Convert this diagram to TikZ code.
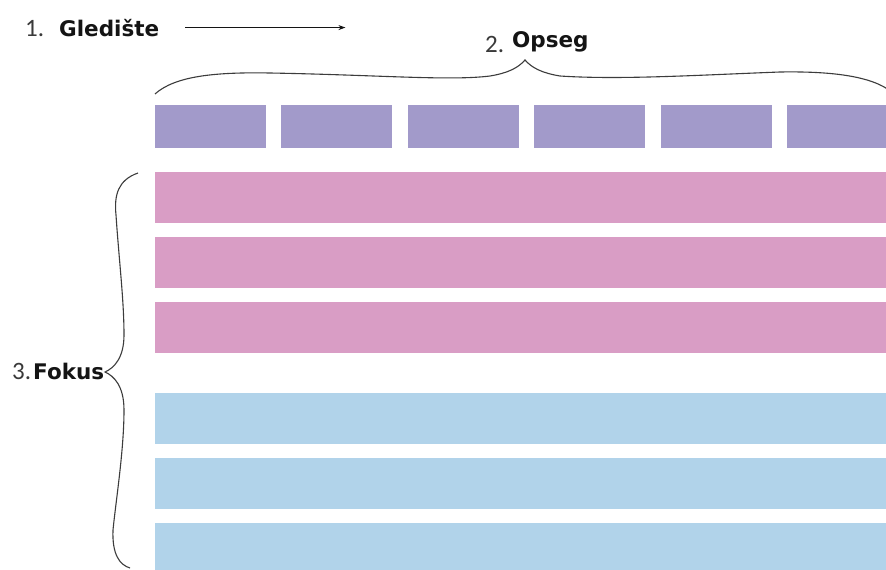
\documentclass[tikz,border=0pt]{standalone}
\usepackage{fontspec}
\newfontfamily\numfont{Carlito}
\newfontfamily\wordfont{DejaVu Sans}
\usepackage{tikz}
\usetikzlibrary{arrows.meta}
\definecolor{ink}{HTML}{141414}
\definecolor{numgray}{HTML}{3A3A3A}
\definecolor{bracegray}{HTML}{3C3C3C}
\definecolor{tilepurple}{HTML}{A29ACA}
\definecolor{barpink}{HTML}{D99DC5}
\definecolor{barblue}{HTML}{B1D3EA}
\tikzset{
  num/.style={anchor=base west, inner sep=0pt, text=numgray, font=\numfont\fontsize{25}{25}\selectfont},
  word/.style={anchor=base west, inner sep=0pt, text=ink, font=\wordfont\bfseries\fontsize{21.5}{21.5}\selectfont},
  tile/.style={anchor=north west, inner sep=0pt, outer sep=0pt, minimum width=111pt, minimum height=43pt, fill=tilepurple},
  bar/.style={anchor=north west, inner sep=0pt, outer sep=0pt, minimum width=760pt, minimum height=51pt},
  braceline/.style={draw=bracegray, line width=1.1pt},
  arr/.style={draw=ink, line width=0.9pt, -{Stealth[length=7pt,width=5pt]}}
}

\begin{document}
\begin{tikzpicture}[x=1pt,y=-1pt]
  \clip (0,0) rectangle (886,570);
  \fill[white] (0,0) rectangle (886,570);

  \node[num] (n1) at (25,36) {1.};
  \node[word] (gled) at (59,36) {Gledište};
  \coordinate (arrto) at ([xshift=186pt]gled.east);
  \draw[arr] ([xshift=26pt]gled.east) -- (arrto);

  \node[num] (n2) at (485,52) {2.};
  \node[word] (opseg) at (512,47) {Opseg};

  \node[num] (n3) at (12,379) {3.};
  \node[word] (fokus) at (33,379) {Fokus};

  \foreach \i in {0,...,5}
    \node[tile] (t\i) at (155+126.4*\i,105) {};

  \foreach \i/\y/\c in {1/172/barpink,2/237/barpink,3/302/barpink,
                        4/393/barblue,5/458/barblue,6/523/barblue}
    \node[bar, fill=\c] (b\i) at (155,\y) {};

  \draw[braceline] (155,94) .. controls (175,76) and (215,72) .. (270,73)
    .. controls (380,75) and (450,81) .. (490,76)
    .. controls (508,73) and (518,68) .. (525,60)
    .. controls (532,68) and (542,73) .. (560,76)
    .. controls (620,80) and (700,75) .. (780,72)
    .. controls (840,71) and (878,78) .. (895,95);

  \draw[braceline] (138,173) .. controls (118,180) and (114,195) .. (116,215)
    .. controls (119,260) and (124,300) .. (124,335)
    .. controls (124,358) and (114,368) .. (105,372)
    .. controls (114,376) and (124,386) .. (124,410)
    .. controls (124,450) and (116,500) .. (113,530)
    .. controls (112,555) and (120,565) .. (130,568);
\end{tikzpicture}
\end{document}
